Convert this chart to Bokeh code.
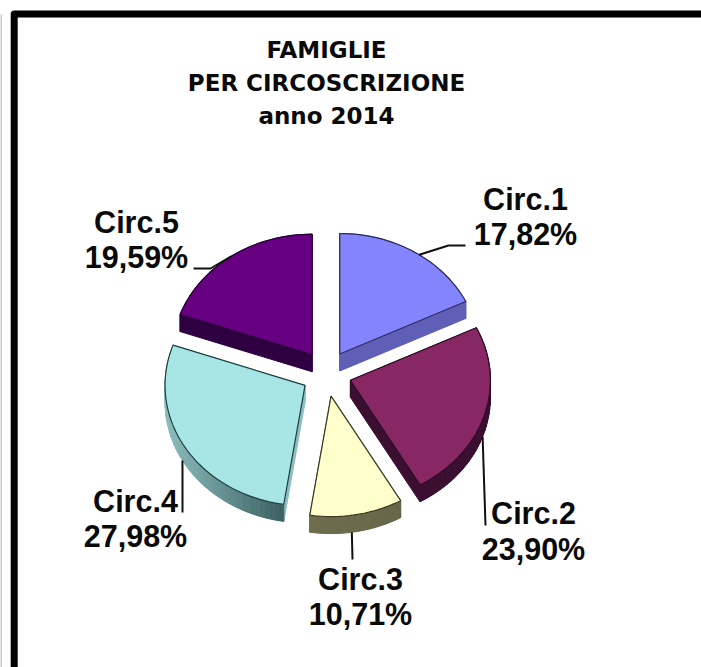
import math
from bokeh.plotting import figure
from bokeh.embed import file_html
from bokeh.resources import INLINE
from bokeh.core.properties import value

# ---- data ----
names = ["Circ.1", "Circ.2", "Circ.3", "Circ.4", "Circ.5"]
shares = [17.82, 23.90, 10.71, 27.98, 19.59]
title_lines = ["FAMIGLIE", "PER CIRCOSCRIZIONE", "anno 2014"]

# ---- styles ----
top_colors = ["#8484FF", "#872864", "#FFFFCC", "#A8E6E6", "#660080"]
wall_light = ["#5F5FB8", "#3A0F30", "#6E6E4E", "#8DBDBD", "#2E0042"]
wall_dark = ["#5F5FB8", "#3A0F30", "#66664A", "#3C6060", "#2E0042"]
edge_colors = ["#2B2B60", "#2E0C28", "#3A3A22", "#1E4040", "#240033"]

W, H = 701, 667
CX, CY = 326, 373         # pie centre
RX, RY = 140, 120.5       # squashed radius of the tilted pie
EX, EY = 25, 23           # explosion of each slice
DEPTH = 17
LABEL_X = [525, 533, 360, 135, 136]
LABEL_Y = [198, 512, 578, 500, 221]
LABEL_GAP = [35, 36, 35, 35, 35]
LABEL_SIZE = "30.5px"
LEADER_SHIFT = [2.5, 2, 2, 2, 0]   # degrees from the slice's middle angle

p = figure(width=W, height=H, x_range=(0, W), y_range=(H, 0),
           output_backend="svg", toolbar_location=None, min_border=0,
           x_axis_location=None, y_axis_location=None, background_fill_color="white",
           border_fill_color="white")
p.grid.visible = False
p.outline_line_color = None


def mix(c1, c2, t):
    a = [int(c1[i:i + 2], 16) for i in (1, 3, 5)]
    b = [int(c2[i:i + 2], 16) for i in (1, 3, 5)]
    return "#%02x%02x%02x" % tuple(round(u + (v - u) * t) for u, v in zip(a, b))


total = sum(shares)
px, py, fills, lines, widths = [], [], [], [], []
leaders_x, leaders_y = [], []
start = 0.0
for i, s in enumerate(shares):
    span = s / total * 360.0
    end = start + span
    mid = math.radians(start + span / 2)
    ax = CX + EX * math.sin(mid)
    ay = CY - EY * math.cos(mid)
    n = max(8, int(span / 2))
    angs = [math.radians(start + span * k / n) for k in range(n + 1)]
    rim = [(ax + RX * math.sin(a), ay - RY * math.cos(a)) for a in angs]

    # extruded walls, drawn first so that the top covers what lies behind it
    xs_rim = [q[0] for q in rim]
    lo, hi = min(xs_rim), max(xs_rim)
    path = [(ax, ay)] + rim + [(ax, ay)]
    for k, ((x0, y0), (x1, y1)) in enumerate(zip(path[:-1], path[1:])):
        t = ((x0 + x1) / 2 - lo) / max(hi - lo, 1)
        if k in (0, len(path) - 2):
            col = wall_light[i]
        else:
            col = mix(wall_light[i], wall_dark[i], t)
        px.append([x0, x1, x1, x0])
        py.append([y0, y1, y1 + DEPTH, y0 + DEPTH])
        fills.append(col)
        lines.append(col)
        widths.append(1)

    # top face
    px.append([ax] + xs_rim)
    py.append([ay] + [q[1] for q in rim])
    fills.append(top_colors[i])
    lines.append(edge_colors[i])
    widths.append(1.2)

    # leader: from the rim near the slice's middle angle
    la = mid + math.radians(LEADER_SHIFT[i])
    lx = ax + RX * math.sin(la)
    ly = ay - RY * math.cos(la)
    if -math.cos(la) > 0.2:
        ly += DEPTH
    leaders_x.append(lx)
    leaders_y.append(ly)
    start = end

p.patches(px, py, fill_color=fills, line_color=lines, line_width=widths)

# frame
p.line([W, 13.7, 13.7], [13.5, 13.5, H], line_color="black", line_width=7, line_join="round")
p.line([0.5, 0.5], [14, H], line_color="#999999", line_width=1)

# leader lines: each one goes from the label to the rim
elbows = [[(448, 245), (465, 245)],
          [(485, 525)],
          [(352, 559)],
          [(182, 512)],
          [(210, 268), (193, 268)]]
for lx, ly, tail in zip(leaders_x, leaders_y, elbows):
    p.line([lx] + [q[0] for q in tail], [ly] + [q[1] for q in tail],
           line_color="#111111", line_width=2)

# labels
for n, s, x, y, g in zip(names, shares, LABEL_X, LABEL_Y, LABEL_GAP):
    pct = f"{s:.2f}".replace(".", ",") + "%"
    p.text([x, x], [y, y + g], text=[n, pct], text_font=value("Liberation Sans"),
           text_font_style="bold", text_font_size=LABEL_SIZE, text_align="center",
           text_baseline="alphabetic", text_color="#0a0a0a")

# title
p.text([326, 326, 326], [49, 82, 115], text=title_lines, text_font=value("DejaVu Sans"),
       text_font_style="bold", text_font_size="23px", text_align="center",
       text_baseline="alphabetic", text_color="#0a0a0a")

open("out.html", "w").write(file_html(p, INLINE))
